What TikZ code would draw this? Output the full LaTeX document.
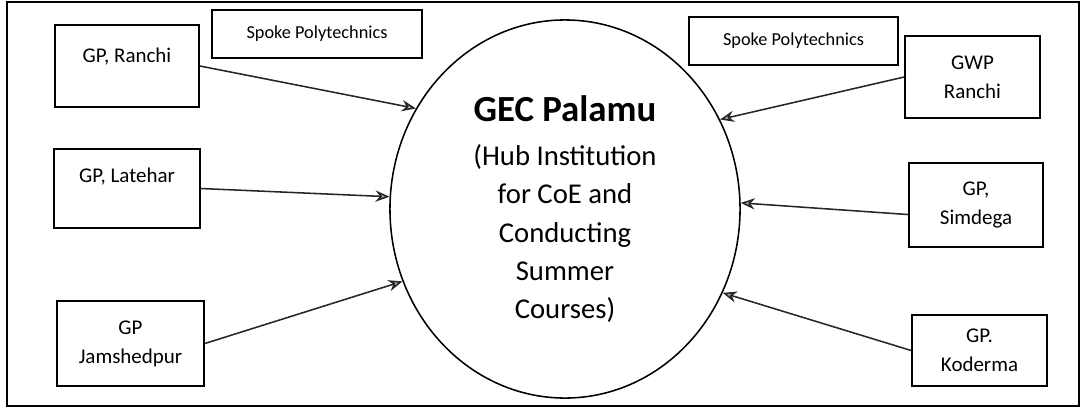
\documentclass[tikz,border=0pt]{standalone}
\usepackage{fontspec}
\setmainfont{Carlito}
\usetikzlibrary{arrows.meta,shapes.geometric}

\begin{document}
\begin{tikzpicture}[x=0.025cm,y=-0.025cm,
    polybox/.style={draw,line width=1.2pt,inner sep=0pt,align=center,font=\fontsize{14.9}{20.6}\selectfont},
    spokebox/.style={draw,line width=1.2pt,inner sep=0pt,minimum width=5.25cm,minimum height=1.2cm,font=\fontsize{13}{15}\selectfont},
    feed/.style={-{Stealth[length=10pt,width=8pt,fill=gray!65]},line width=1.1pt,draw=black!85}]
            \useasboundingbox (0,0) rectangle (1082,409);
            \draw[line width=1.5pt] (7,2) rectangle (1079,406);
            \node[draw,ellipse,line width=1.1pt,minimum width=8.75cm,minimum height=9.45cm,align=center,font=\fontsize{20.4}{27.2}\selectfont] (hub) at (565,209) {{\fontsize{26.2}{30}\selectfont\bfseries GEC Palamu}\\[4.5pt](Hub Institution\\for CoE and\\Conducting\\Summer\\Courses)};
            \node[spokebox] (spokeL) at (317,34) {Spoke Polytechnics};
            \node[spokebox,minimum width=5.225cm] (spokeR) at (793.5,41) {Spoke Polytechnics};
            \node[polybox,minimum width=3.6cm,minimum height=2.05cm,text height=26.7pt,text depth=31.6pt] (ranchi) at (127,66) {GP, Ranchi};
            \node[polybox,minimum width=3.65cm,minimum height=1.975cm,text height=23.5pt,text depth=32.7pt] (latehar) at (127,188.5) {GP, Latehar};
            \node[polybox,minimum width=3.675cm,minimum height=2.125cm] (jamshedpur) at (130.5,343.5) {GP\\Jamshedpur};
            \node[polybox,minimum width=3.375cm,minimum height=2.05cm] (gwp) at (972.5,77) {GWP\\Ranchi};
            \node[polybox,minimum width=3.35cm,minimum height=2.1cm] (simdega) at (976,205) {GP,\\Simdega};
            \node[polybox,minimum width=3.375cm,minimum height=1.775cm] (koderma) at (979.5,350.5) {GP.\\Koderma};
            \draw[feed] (ranchi.east) -- (hub.146);
            \draw[feed] (latehar.east) -- (hub.176);
            \draw[feed] (jamshedpur.east) -- (hub.204);
            \draw[feed] (gwp.west) -- (hub.30);
            \draw[feed] (simdega.188) -- (hub.2);
            \draw[feed] (koderma.west) -- (hub.-28);
        \end{tikzpicture}
\end{document}
